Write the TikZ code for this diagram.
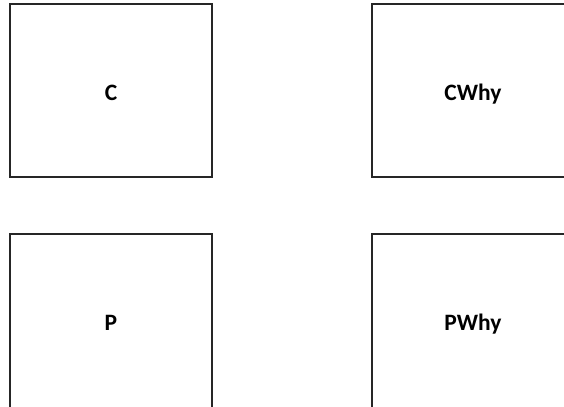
\documentclass[tikz,border=0pt]{standalone}
\usepackage{fontspec}
\setmainfont{Carlito}
\begin{document}
\begin{tikzpicture}[x=1bp,y=-1bp,
  panel/.style={draw=black!85, line width=1.3bp, fill=white, rectangle,
    minimum width=202bp, minimum height=173bp, inner sep=0pt,
    font=\bfseries\fontsize{23.5bp}{28bp}\selectfont,
    text height=19.4bp, text depth=0pt},
  lowpanel/.style={panel, minimum height=180bp, text height=12.4bp}]
\useasboundingbox (0,0) rectangle (564,406);
\clip (0,0) rectangle (564,406);
\node[panel] (c)    at (111,90.5) {C};
\node[panel] (cwhy) at (473,90.5) {CWhy};
\node[lowpanel] (p)    at (111,324) {P};
\node[lowpanel] (pwhy) at (473,324) {PWhy};
\end{tikzpicture}
\end{document}
